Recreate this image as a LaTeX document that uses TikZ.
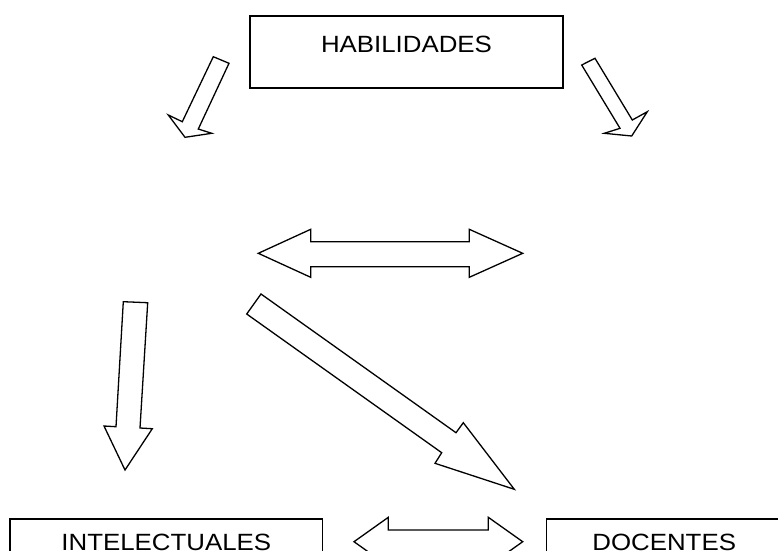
\documentclass[tikz,border=0pt]{standalone}
\usepackage{fontspec}
\setmainfont{Liberation Sans}[FakeStretch=1.1]
\usepackage{tikz}

\begin{document}
\begin{tikzpicture}[x=1pt, y=-1pt]
    \tikzset{box/.style = {shape=rectangle, draw, line width=1.6pt, inner sep=0pt, font=\fontsize{23.5}{28}\selectfont}}
    \tikzset{blockarrow/.style = {draw, line width=1.3pt, line join=miter}}

    \useasboundingbox (0,0) rectangle (778,550);

    \node[box, minimum width=313pt, text height=36.7pt, text depth=35.3pt] (habilidades) at (406.5,15) [anchor=north] {HABILIDADES};
    \node[box, minimum width=312.7pt, text height=31.2pt, text depth=40.8pt] (intelectuales) at (166.3,518.3) [anchor=north] {INTELECTUALES};
    \node[box, minimum width=235.7pt, text height=31.2pt, text depth=40.8pt] (docentes) at (664.2,518.3) [anchor=north] {DOCENTES};

    % arrows under habilidades
    \draw[blockarrow] (213.3,56.7) -- (229,63.3) -- (198.3,129) -- (211.7,133.3) -- (185,137.3)
        -- (168.3,115) -- (182.3,121.7) -- cycle;
    \draw[blockarrow] (595,58.3) -- (632.3,120) -- (647.3,111.7) -- (631.7,136) -- (604.3,133.3)
        -- (620,128.3) -- (581.7,65) -- cycle;

    % double arrows
    \draw[blockarrow] (258.3,253.3) -- (310.7,229.3) -- (310.7,241.7) -- (469.3,241.7) -- (469.3,229.3)
        -- (522.7,253.3) -- (469.3,277.3) -- (469.3,266.7) -- (310.7,266.7) -- (310.7,277.3) -- cycle;
    \draw[blockarrow] (354,541.7) -- (388.3,517.3) -- (388.3,530) -- (488.3,530) -- (488.3,517.3)
        -- (522.7,541.7) -- (488.3,566.1) -- (488.3,553.4) -- (388.3,553.4) -- (388.3,566.1) -- cycle;

    % arrows towards the bottom boxes
    \draw[blockarrow] (123.3,301.7) -- (147.7,302.7) -- (140,428) -- (152.3,428.7) -- (125,470)
        -- (104,426) -- (116,426.7) -- cycle;
    \draw[blockarrow] (261,294) -- (456,432.7) -- (463.3,422.7) -- (514.3,489.3) -- (435,463.3)
        -- (441.7,452.7) -- (246.7,314) -- cycle;
  \end{tikzpicture}
\end{document}
